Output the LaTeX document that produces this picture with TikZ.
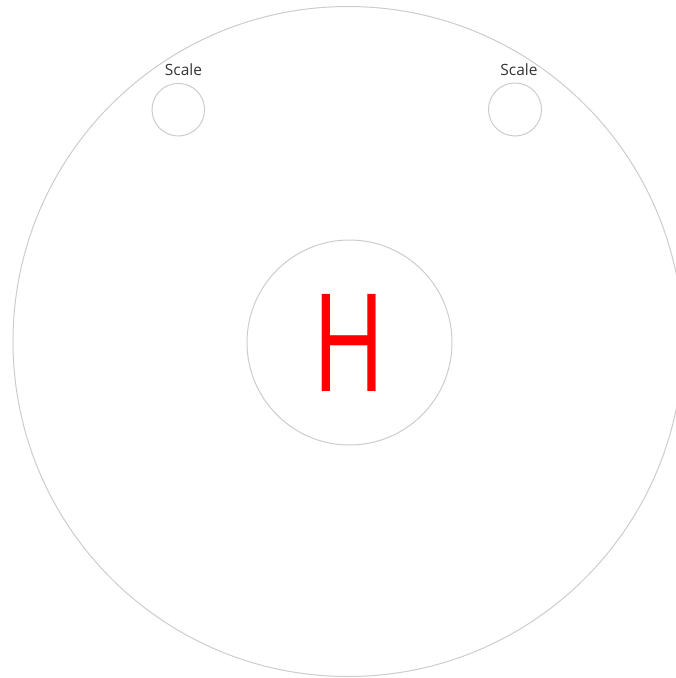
\documentclass[tikz,border=0pt]{standalone}
\usepackage{fontspec}
\setmainfont{Open Sans}
\usepackage{tikz}
\usetikzlibrary{positioning}
\definecolor{cRingD}{HTML}{CCCCCC}
\definecolor{cLabelT}{HTML}{333333}
\definecolor{cHeliR}{HTML}{FF0000}
\tikzset{
  ring/.style   = {circle, draw=cRingD, line width=1pt, inner sep=0pt},
  scalelbl/.style = {text=cLabelT, font=\fontsize{15.5}{18}\selectfont,
                  inner sep=0pt, anchor=base},
  helimark/.style = {text=cHeliR, font=\fontsize{136}{150}\selectfont,
                  inner sep=0pt, anchor=base, xscale=0.73},
}
\begin{document}
\begin{tikzpicture}[x=1pt, y=-1pt]
  \useasboundingbox (0,0) rectangle (676,678);
  \clip (0,0) rectangle (676,678);
  % outer pad boundary
  \node[ring, minimum size=670pt] (pad) at (348,341.5) {};
  % centre marking
  \node[ring, minimum size=205pt] (hub) at (349.5,342.5) {};
  \node[helimark] (hmark) at (349,391) {H};
  % scale circles
  \node[ring, minimum size=52.6pt] (scaleL) at (178.3,109.7) {};
  \node[ring, minimum size=53pt] (scaleR) at (515,109.5) {};
  \node[scalelbl] (lblL) at (183.5,75.3) {Scale};
  \node[scalelbl] (lblR) at (519,75.8) {Scale};
\end{tikzpicture}
\end{document}
